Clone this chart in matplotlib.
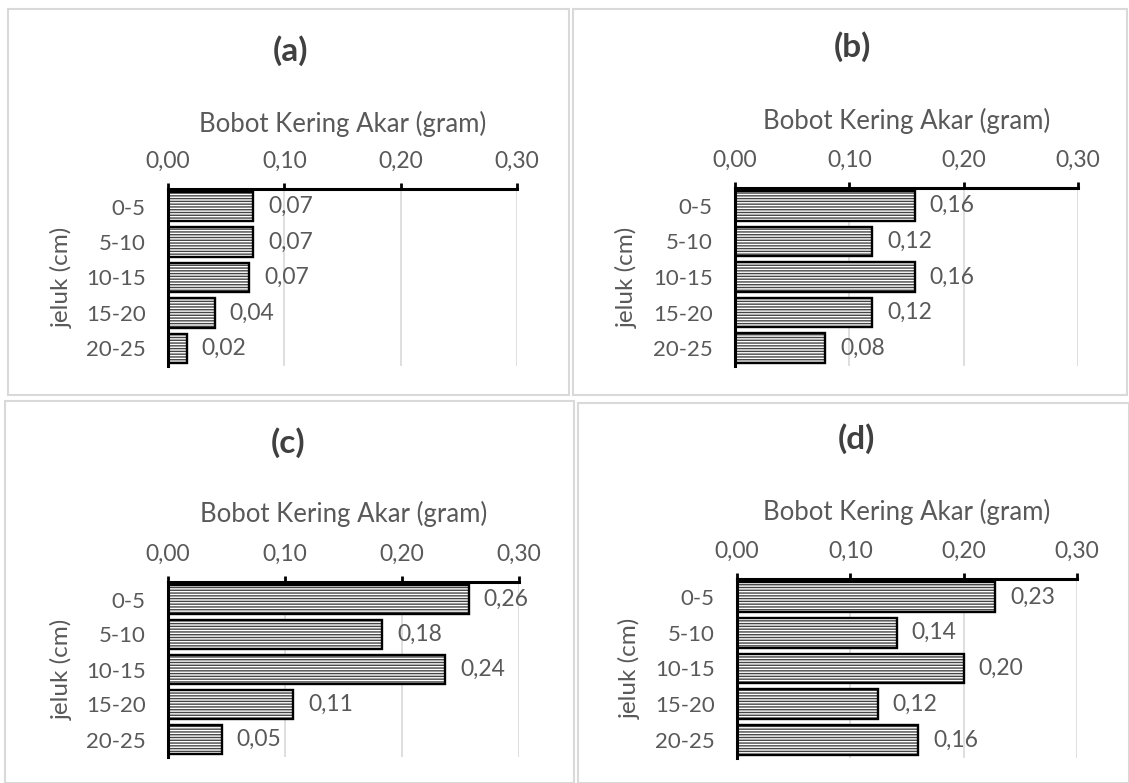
import matplotlib
matplotlib.use("Agg")
import matplotlib.pyplot as plt
from matplotlib.patches import Rectangle

W, H = 1129, 783
plt.rcParams['font.family'] = ['Lato', 'DejaVu Sans']
plt.rcParams['hatch.linewidth'] = 1.0

categories = ['0-5', '5-10', '10-15', '15-20', '20-25']
values_a = [0.073, 0.073, 0.070, 0.040, 0.016]
values_b = [0.157, 0.120, 0.157, 0.120, 0.079]
values_c = [0.257, 0.183, 0.237, 0.107, 0.046]
values_d = [0.228, 0.141, 0.200, 0.124, 0.160]
panel_titles = ['(a)', '(b)', '(c)', '(d)']
x_ticks = [0.0, 0.1, 0.2, 0.3]
x_title = 'Bobot Kering Akar (gram)'
y_title = 'jeluk (cm)'

GRAY = '#595959'
fig = plt.figure(figsize=(W / 100, H / 100), dpi=100)

def fx(px):
    return px / W

def fy(py):
    return 1 - py / H

# panel frames (left, top, right, bottom) in pixels
frames = [(8, 9, 569, 395), (573, 9, 1127, 395), (5, 401, 574, 783), (578, 403, 1129, 783)]
for l, t, r, b in frames:
    fig.patches.append(Rectangle((fx(l), fy(b)), fx(r - l), (b - t) / H,
                                 transform=fig.transFigure, fill=False,
                                 edgecolor='#d9d9d9', linewidth=1.5))

# axes boxes (left, right, top, bottom) px
boxes = [(168, 517, 189, 366), (735, 1078, 188, 366), (168, 519, 582, 757), (737, 1077, 579, 758)]
title_pos = [(291, 51), (852, 47), (288, 443), (856, 439)]
xtitle_y = [124, 121, 514, 512]
ytitle_x = [62, 627, 62, 630]
datasets = [values_a, values_b, values_c, values_d]

for i, (l, r, t, b) in enumerate(boxes):
    ax = fig.add_axes([fx(l), fy(b), fx(r - l), (b - t) / H])
    vals = datasets[i]
    y = list(range(len(categories)))
    ax.barh(y, vals, height=0.83, color='white', edgecolor='#454545',
            hatch='------', linewidth=0, zorder=2)
    ax.barh(y, vals, height=0.83, fill=False, edgecolor='black',
            linewidth=1.7, zorder=3)
    ax.set_xlim(0, 0.3)
    ax.set_ylim(4.5, -0.5)
    ax.xaxis.tick_top()
    ax.set_xticks(x_ticks)
    ax.set_xticklabels([f"{v:.2f}".replace('.', ',') for v in x_ticks])
    ax.set_yticks(y)
    ax.set_yticklabels(categories)
    ax.tick_params(axis='x', direction='out', length=4, width=2, color='black',
                   pad=8, labelsize=16.5, labelcolor=GRAY)
    ax.tick_params(axis='y', length=0, pad=16, labelsize=16, labelcolor=GRAY)
    for s in ['right', 'bottom']:
        ax.spines[s].set_visible(False)
    ax.spines['top'].set_linewidth(2.2)
    ax.spines['left'].set_linewidth(2.2)
    ax.grid(axis='x', color='#d9d9d9', linewidth=1.2, zorder=0)
    ax.set_axisbelow(True)
    for yy, v in zip(y, vals):
        ax.annotate(f"{v:.2f}".replace('.', ','), (v, yy), xytext=(15, 0),
                    textcoords='offset pixels', va='center', ha='left',
                    fontsize=16.5, color=GRAY)
    fig.text(fx((l + r) / 2), fy(xtitle_y[i]), x_title, ha='center', va='center',
             fontsize=18.5, color=GRAY)
    fig.text(fx(ytitle_x[i]), fy((t + b) / 2), y_title, rotation=90,
             ha='center', va='center', fontsize=17.5, color=GRAY)
    tx, ty = title_pos[i]
    fig.text(fx(tx), fy(ty), panel_titles[i], ha='center', va='center',
             fontsize=24, fontweight='bold', color='#404040')

fig.savefig('out.png', dpi=100, facecolor='white')
